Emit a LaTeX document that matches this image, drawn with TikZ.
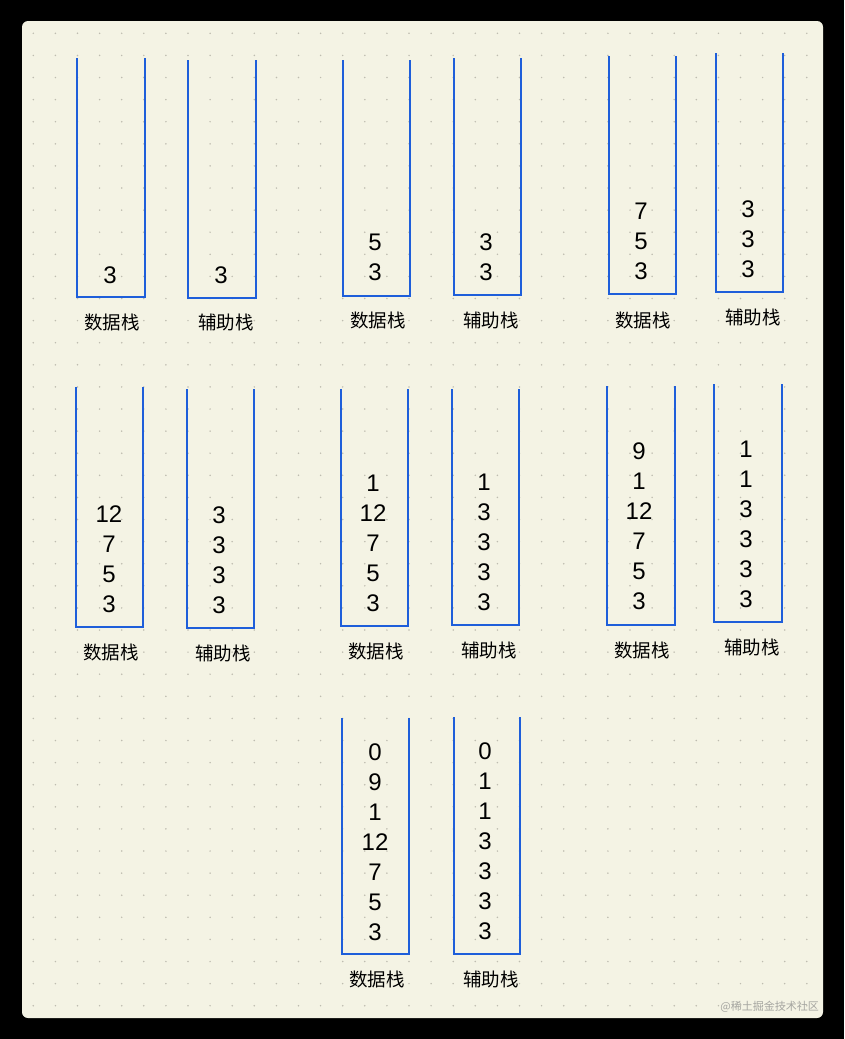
\documentclass[tikz,border=0pt]{standalone}
\usepackage{fontspec}
\setmainfont{Liberation Sans}
\newfontfamily\cjk{Noto Sans CJK SC}
\definecolor{paper}{RGB}{244,243,228}
\definecolor{stackblue}{RGB}{30,94,218}
\definecolor{dotgrey}{RGB}{190,188,176}
\definecolor{wmgrey}{RGB}{165,165,160}
\tikzset{
  stackline/.style={draw=stackblue, line width=2pt, line join=miter},
  num/.style={inner sep=0pt, anchor=center, font=\fontsize{24}{24}\selectfont, text=black},
  lbl/.style={inner sep=0pt, anchor=center, font=\cjk\fontsize{18.5}{18.5}\selectfont, text=black},
  wm/.style={inner sep=0pt, anchor=east, font=\cjk\fontsize{11}{11}\selectfont, text=wmgrey}
}
% #1 name, #2 left, #3 right, #4 top, #5 bottom, #6 x of numbers, #7 y of top number, #8 numbers top to bottom
\newcommand\stk[8]{%
  \draw[stackline] (#2,#4) -- (#2,#5) -- (#3,#5) -- (#3,#4);
  \foreach \v [count=\k] in {#8} \node[num] (#1n\k) at (#6,{#7+(\k-1)*30}) {\v};
}
\begin{document}
\begin{tikzpicture}[x=1pt,y=-1pt]
\useasboundingbox (0,0) rectangle (844,1039);
\fill[black] (0,0) rectangle (844,1039);
\fill[paper, rounded corners=6pt] (22,21) rectangle (823,1018);
\foreach \i in {0,...,35}
  \foreach \j in {0,...,44}
    \fill[dotgrey] ({33.3+\i*22.1},{33.3+\j*22.1}) circle (0.85pt);

% row 1
\stk{a}{77}{145}{58}{297}{110}{275}{3}
\node[lbl] (al) at (112,322) {数据栈};
\stk{b}{188}{256}{60}{298}{221}{275}{3}
\node[lbl] (bl) at (226,322) {辅助栈};
\stk{c}{343}{410}{60}{296}{375}{242}{5,3}
\node[lbl] (cl) at (378,320) {数据栈};
\stk{d}{454}{521}{58}{295}{486}{242}{3,3}
\node[lbl] (dl) at (491,320) {辅助栈};
\stk{e}{609}{676}{56}{294}{641}{211}{7,5,3}
\node[lbl] (el) at (643,320) {数据栈};
\stk{f}{716}{783}{53}{292}{748}{209}{3,3,3}
\node[lbl] (fl) at (753,317) {辅助栈};

% row 2
\stk{g}{76}{143}{387}{627}{109}{514}{12,7,5,3}
\node[lbl] (gl) at (111,652) {数据栈};
\stk{h}{187}{254}{389}{628}{219}{515}{3,3,3,3}
\node[lbl] (hl) at (223,653) {辅助栈};
\stk{i}{341}{408}{389}{626}{373}{483}{1,12,7,5,3}
\node[lbl] (il) at (376,651) {数据栈};
\stk{j}{452}{519}{389}{625}{484}{482}{1,3,3,3,3}
\node[lbl] (jl) at (489,650) {辅助栈};
\stk{k}{607}{675}{386}{625}{639}{451}{9,1,12,7,5,3}
\node[lbl] (kl) at (642,650) {数据栈};
\stk{l}{714}{782}{384}{622}{746}{449}{1,1,3,3,3,3}
\node[lbl] (ll) at (752,647) {辅助栈};

% row 3
\stk{m}{342}{409}{718}{954}{375}{752}{0,9,1,12,7,5,3}
\node[lbl] (ml) at (377,979) {数据栈};
\stk{n}{454}{520}{717}{954}{485}{751}{0,1,1,3,3,3,3}
\node[lbl] (nl) at (491,979) {辅助栈};

\node[wm] (wm) at (819,1007) {@稀土掘金技术社区};
\end{tikzpicture}
\end{document}
